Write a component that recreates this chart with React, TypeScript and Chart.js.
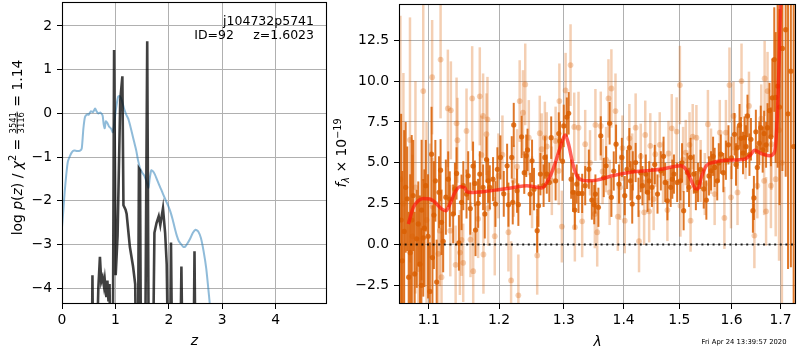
import React, { useEffect, useRef } from "react";
import { Chart, registerables } from "chart.js";
Chart.register(...registerables);

const FONT = "'DejaVu Sans', 'Liberation Sans', sans-serif";
const TICK_SIZE = 13.9;

// ---------------- left panel: redshift ----------------
const priorZ = [0.0, 0.02, 0.05, 0.08, 0.11, 0.15, 0.19, 0.23, 0.28, 0.34, 0.37, 0.40, 0.43, 0.47, 0.50, 0.54, 0.58, 0.62, 0.65, 0.68, 0.72, 0.76, 0.78, 0.80, 0.82, 0.85, 0.88, 0.92, 0.95, 0.98, 1.01, 1.05, 1.08, 1.12, 1.16, 1.20, 1.24, 1.28, 1.31, 1.35, 1.39, 1.42, 1.46, 1.50, 1.54, 1.58, 1.62, 1.64, 1.67, 1.70, 1.74, 1.78, 1.82, 1.86, 1.90, 1.95, 1.99, 2.03, 2.07, 2.11, 2.15, 2.19, 2.23, 2.27, 2.31, 2.35, 2.40, 2.45, 2.50, 2.55, 2.60, 2.65, 2.70, 2.75, 2.80, 2.90];
const priorLogP = [-2.6, -2.3, -1.8, -1.4, -1.1, -0.97, -0.88, -0.85, -0.86, -0.85, -0.80, -0.35, -0.08, -0.02, -0.03, 0.05, 0.03, 0.11, 0.04, 0.0, 0.02, -0.05, -0.25, -0.34, -0.18, -0.22, -0.30, -0.35, -0.43, -0.20, 0.10, 0.38, 0.40, 0.30, 0.12, -0.02, -0.12, -0.30, -0.45, -0.65, -0.85, -1.05, -1.25, -1.35, -1.42, -1.55, -1.70, -1.50, -1.30, -1.32, -1.40, -1.52, -1.64, -1.75, -1.87, -2.01, -2.12, -2.25, -2.42, -2.62, -2.80, -2.93, -2.99, -3.05, -3.04, -2.97, -2.86, -2.73, -2.66, -2.70, -2.85, -3.15, -3.55, -4.15, -4.8, -6.0];

const pzZ = [0.0, 0.50, 0.555, 0.57, 0.585, 0.64, 0.68, 0.71, 0.735, 0.76, 0.785, 0.80, 0.83, 0.85, 0.87, 0.89, 0.91, 0.95, 0.975, 1.005, 1.04, 1.09, 1.13, 1.15, 1.19, 1.21, 1.27, 1.33, 1.37, 1.39, 1.42, 1.44, 1.46, 1.48, 1.555, 1.595, 1.625, 1.70, 1.73, 1.77, 1.81, 1.84, 1.89, 1.93, 1.96, 1.99, 2.02, 2.04, 2.065, 2.21, 2.235, 2.26, 2.46, 2.48, 2.50, 3.0, 5.0];
const pzLogP = [-8, -8, -6, -3.7, -6, -6, -4.0, -3.28, -3.85, -3.75, -3.95, -3.8, -4.2, -3.82, -4.3, -3.9, -6, -6, 1.45, -3.7, -2.8, 0.3, 0.85, -2.1, -2.2, -2.3, -3.05, -3.5, -3.9, -6, -6, -1.26, -1.3, -6, -6, 1.65, -6, -6, -2.73, -2.5, -2.35, -2.55, -2.17, -2.73, -3.45, -6, -6, -2.95, -6, -6, -3.5, -6, -6, -3.15, -6, -8, -8];

const leftXTicks = [0, 1, 2, 3, 4];
const leftYTicks = [-4, -3, -2, -1, 0, 1, 2];

// ---------------- right panel: spectrum ----------------
// [lambda (micron), flux, error]
const darkPoints: [number, number, number][] = [
  [1.063, 1.5, 6.5], [1.0645, -1.0, 5.5], [1.067, 0.8, 6.2], [1.069, 3.5, 4.0], [1.071, 2.8, 3.2],
  [1.073, -2.0, 4.0], [1.075, -0.5, 4.8], [1.077, 1.5, 5.2], [1.079, 3.0, 3.4], [1.081, -1.8, 3.8],
  [1.0837, 0.35, 3.0], [1.0858, 1.26, 2.6], [1.088, -1.2, 4.2], [1.090, -2.5, 3.5], [1.0903, 2.11, 4.3],
  [1.0925, 0.41, 3.6], [1.094, 1.0, 3.6], [1.096, 3.6, 2.8], [1.099, 0.5, 3.8], [1.1015, -2.87, 3.0],
  [1.1038, 5.53, 2.9], [1.105, -0.8, 3.2], [1.107, 1.8, 3.3], [1.109, 3.9, 2.5], [1.1108, -2.30, 2.6],
  [1.114, 3.2, 2.2], [1.1162, 4.55, 1.9], [1.1175, 1.36, 2.0], [1.1198, 0.20, 1.9], [1.1235, 2.9, 2.3],
  [1.1268, 4.00, 1.7], [1.129, 2.78, 1.7], [1.1337, 1.87, 1.8], [1.1362, 3.4, 1.6], [1.1385, 4.35, 1.6],
  [1.1418, 0.10, 1.7], [1.1455, 2.58, 1.7], [1.148, 3.6, 1.5], [1.1526, 3.09, 1.5], [1.155, 4.21, 1.5],
  [1.158, 2.2, 1.6], [1.162, 4.8, 1.5], [1.1645, 3.74, 1.4], [1.1655, 0.89, 1.6], [1.1693, 2.52, 1.5],
  [1.1717, 4.31, 1.4], [1.1765, 3.50, 1.4], [1.179, 1.87, 1.5], [1.1815, 5.2, 1.4], [1.1839, 3.90, 1.35],
  [1.1863, 3.50, 1.35], [1.1911, 4.00, 1.35], [1.1946, 2.48, 1.4], [1.1975, 4.6, 1.35], [1.202, 5.33, 1.35],
  [1.207, 3.1, 1.4], [1.212, 4.82, 1.35], [1.214, 2.44, 1.35], [1.219, 5.33, 1.3], [1.2205, 2.58, 1.35],
  [1.222, 7.32, 1.35], [1.227, 3.29, 1.35], [1.229, 2.44, 1.3], [1.234, 6.59, 1.3], [1.238, 4.4, 1.3],
  [1.241, 5.43, 1.3], [1.243, 5.79, 1.3], [1.247, 3.09, 1.3], [1.250, 5.12, 1.3], [1.253, 3.39, 1.3],
  [1.258, 0.85, 1.35], [1.260, 2.38, 1.3], [1.263, 4.31, 1.3], [1.268, 3.6, 1.3], [1.270, 5.33, 1.3],
  [1.273, 4.31, 1.2], [1.277, 3.8, 1.2], [1.280, 6.54, 1.3], [1.287, 3.90, 1.2], [1.292, 6.79, 1.3],
  [1.294, 6.34, 1.2], [1.298, 5.1, 1.2], [1.300, 7.26, 1.3], [1.305, 7.80, 1.2], [1.308, 8.03, 1.3],
  [1.312, 4.00, 1.2], [1.315, 3.2, 1.2], [1.318, 2.11, 1.2], [1.321, 3.70, 1.2], [1.324, 3.13, 1.2],
  [1.330, 3.13, 1.2], [1.335, 3.60, 1.2], [1.341, 4.61, 1.2], [1.346, 2.72, 1.2], [1.350, 2.44, 1.2],
  [1.352, 3.09, 1.2], [1.357, 2.28, 1.2], [1.361, 6.65, 1.2], [1.366, 4.1, 1.2], [1.370, 4.82, 1.2],
  [1.376, 7.42, 1.3], [1.379, 2.89, 1.2], [1.383, 4.5, 1.2], [1.387, 6.14, 1.2], [1.392, 3.70, 1.2],
  [1.397, 5.33, 1.2], [1.402, 2.99, 1.2], [1.406, 4.6, 1.2], [1.410, 5.93, 1.2], [1.412, 3.90, 1.2],
  [1.415, 2.48, 1.2], [1.416, 4.51, 1.2], [1.421, 5.02, 1.2], [1.426, 2.89, 1.2], [1.430, 4.4, 1.2],
  [1.433, 3.60, 1.2], [1.439, 4.31, 1.2], [1.442, 3.2, 1.2], [1.445, 3.90, 1.2], [1.450, 3.50, 1.2],
  [1.455, 4.9, 1.2], [1.460, 3.09, 1.2], [1.466, 4.51, 1.2], [1.471, 5.4, 1.2], [1.474, 3.8, 1.2],
  [1.478, 2.68, 1.2], [1.484, 3.50, 1.2], [1.487, 4.00, 1.2], [1.490, 4.31, 1.2], [1.496, 3.80, 1.2],
  [1.502, 3.90, 1.2], [1.505, 5.0, 1.2], [1.508, 2.07, 1.2], [1.515, 4.41, 1.2], [1.518, 3.5, 1.2],
  [1.521, 5.33, 1.2], [1.527, 4.31, 1.2], [1.531, 3.3, 1.2], [1.535, 3.80, 1.2], [1.540, 4.6, 1.2],
  [1.546, 3.4, 1.2], [1.551, 2.72, 1.2], [1.556, 4.2, 1.2], [1.560, 4.51, 1.2], [1.564, 5.4, 1.2],
  [1.567, 4.72, 1.2], [1.572, 3.9, 1.2], [1.575, 5.0, 1.2], [1.579, 5.53, 1.2], [1.584, 4.4, 1.2],
  [1.589, 5.16, 1.2], [1.594, 6.1, 1.2], [1.600, 5.3, 1.3], [1.606, 6.75, 1.3], [1.609, 4.9, 1.3],
  [1.612, 5.93, 1.3], [1.616, 7.3, 1.3], [1.619, 6.50, 1.3], [1.623, 5.6, 1.3], [1.626, 6.54, 1.3],
  [1.629, 6.0, 1.3], [1.632, 7.87, 1.3], [1.636, 5.5, 1.3], [1.639, 6.44, 1.3], [1.643, 2.07, 1.35],
  [1.645, 2.85, 1.35], [1.649, 6.9, 1.35], [1.652, 4.72, 1.35], [1.656, 6.2, 1.35], [1.659, 7.15, 1.35],
  [1.663, 5.8, 1.4], [1.666, 6.79, 1.4], [1.670, 6.1, 1.4], [1.673, 7.15, 1.5], [1.677, 8.2, 1.7],
  [1.680, 6.59, 1.8], [1.683, 8.98, 2.4], [1.687, 11.32, 3.2], [1.690, 9.0, 4.0], [1.694, 9.70, 5.0],
  [1.698, 8.41, 6.0], [1.704, 12.0, 7.5], [1.711, 13.15, 9.0], [1.716, 8.0, 9.5], [1.722, 10.61, 12.0],
  [1.728, 6.0, 12.0]
];

const lightPoints: [number, number, number][] = [
  [1.062, 4.0, 10.0], [1.066, 2.5, 8.0], [1.0747, 6.40, 7.5], [1.078, 0.5, 5.0], [1.082, 3.5, 6.5],
  [1.086, -1.5, 4.5], [1.0925, 9.39, 5.5], [1.097, 1.5, 6.0], [1.1015, 2.68, 3.5], [1.1046, 10.24, 3.5],
  [1.1053, 2.32, 3.0], [1.113, -0.57, 3.2], [1.1152, 0.85, 3.4], [1.1162, 11.32, 3.6], [1.1175, -2.0, 2.8],
  [1.1263, 8.33, 3.6], [1.1297, 0.85, 2.8], [1.1305, 8.21, 3.0], [1.1372, -1.24, 2.4], [1.1385, 7.42, 2.8],
  [1.1398, 6.38, 2.6], [1.1432, -0.49, 2.6], [1.1455, 0.28, 2.2], [1.1479, -1.12, 2.4], [1.1526, 6.95, 2.6],
  [1.1583, 0.30, 2.3], [1.1607, 8.94, 3.2], [1.1622, -1.63, 2.4], [1.1693, 1.57, 2.4], [1.1717, 9.07, 3.0],
  [1.1741, 5.49, 2.4], [1.1765, 7.87, 2.6], [1.177, -0.61, 2.4], [1.1814, 6.75, 2.5], [1.1829, 7.66, 2.6],
  [1.1839, 2.22, 2.3], [1.1936, 0.51, 2.4], [1.199, 4.2, 2.6], [1.205, 5.5, 2.4], [1.214, 0.75, 2.4],
  [1.218, -2.20, 2.4], [1.222, 3.90, 2.2], [1.227, 4.76, 2.3], [1.229, -3.11, 2.5], [1.231, 8.78, 2.5],
  [1.236, 8.07, 2.6], [1.2395, 9.80, 2.5], [1.245, 6.54, 2.3], [1.250, 3.2, 2.2], [1.258, -0.67, 2.4],
  [1.262, 6.81, 2.3], [1.265, 5.83, 2.2], [1.270, 6.54, 2.2], [1.273, 6.00, 2.1], [1.281, 3.90, 2.1],
  [1.287, 6.34, 2.1], [1.292, 4.51, 2.1], [1.293, 8.78, 2.3], [1.297, 1.10, 2.2], [1.303, 9.43, 2.3],
  [1.311, 10.98, 2.5], [1.317, 7.20, 2.1], [1.318, 1.06, 2.1], [1.324, 7.15, 2.2], [1.330, 1.42, 2.2],
  [1.335, 6.14, 2.1], [1.343, 5.0, 2.0], [1.351, 1.87, 2.1], [1.352, 7.32, 2.2], [1.355, 0.75, 2.1],
  [1.361, 7.26, 2.1], [1.364, 4.47, 2.0], [1.370, 5.2, 2.0], [1.374, 8.94, 2.4], [1.376, 3.19, 2.0],
  [1.379, 9.55, 2.4], [1.386, 8.17, 2.3], [1.390, 1.71, 2.1], [1.394, 3.50, 2.0], [1.398, 5.9, 2.0],
  [1.402, 1.46, 2.0], [1.410, 6.50, 2.1], [1.415, 4.8, 2.0], [1.421, 7.15, 2.1], [1.427, 0.20, 1.9],
  [1.430, 5.4, 2.0], [1.436, 1.97, 2.0], [1.438, 6.71, 2.1], [1.445, 2.03, 1.9], [1.447, 6.04, 2.0],
  [1.453, 2.78, 1.9], [1.456, 5.53, 2.0], [1.464, 6.10, 2.0], [1.470, 4.4, 1.9], [1.478, 2.11, 1.9],
  [1.480, 5.57, 2.0], [1.486, 7.11, 2.1], [1.495, 6.91, 2.1], [1.501, 9.76, 2.4], [1.502, 2.38, 1.9],
  [1.507, 5.2, 2.0], [1.512, 5.63, 2.0], [1.519, 6.10, 2.0], [1.521, 1.46, 1.9], [1.525, 6.60, 2.0],
  [1.532, 6.54, 2.0], [1.540, 4.5, 1.9], [1.548, 3.70, 1.9], [1.554, 7.36, 2.1], [1.560, 5.1, 2.0],
  [1.567, 3.09, 1.9], [1.577, 6.85, 2.0], [1.586, 1.63, 1.9], [1.589, 6.85, 2.0], [1.596, 9.76, 2.3],
  [1.599, 2.89, 1.9], [1.604, 7.87, 2.1], [1.612, 3.19, 2.0], [1.620, 10.00, 2.3], [1.628, 6.0, 2.0],
  [1.635, 8.48, 2.1], [1.646, 0.55, 2.0], [1.652, 3.60, 2.0], [1.660, 7.7, 2.1], [1.666, 3.90, 2.1],
  [1.667, 10.16, 2.3], [1.670, 2.03, 2.1], [1.673, 9.39, 2.4], [1.680, 3.60, 2.6], [1.681, 6.14, 2.8],
  [1.690, 4.00, 3.5], [1.697, 7.0, 8.0], [1.703, 5.0, 10.0]
];

const modelLam = [1.0725, 1.0792, 1.0858, 1.0925, 1.1016, 1.1085, 1.1175, 1.1236, 1.1292, 1.1362, 1.1432, 1.1503, 1.1526, 1.1597, 1.179, 1.1985, 1.222, 1.2422, 1.2526, 1.2654, 1.2733, 1.2839, 1.2943, 1.3024, 1.3078, 1.3148, 1.3213, 1.3295, 1.3406, 1.3543, 1.3808, 1.4094, 1.4388, 1.4688, 1.5023, 1.5117, 1.521, 1.5304, 1.5348, 1.5413, 1.5509, 1.5635, 1.5927, 1.6258, 1.6394, 1.6461, 1.6598, 1.6769, 1.6873, 1.6929, 1.6978, 1.7012];
const modelFlux = [1.25, 2.27, 2.68, 2.82, 2.79, 2.58, 2.18, 2.07, 2.48, 3.19, 3.54, 3.46, 3.25, 3.19, 3.25, 3.35, 3.49, 3.60, 3.54, 3.46, 3.80, 4.71, 5.93, 6.70, 6.14, 4.92, 4.21, 3.94, 3.90, 3.94, 4.21, 4.41, 4.51, 4.62, 4.82, 4.62, 4.00, 3.42, 3.40, 4.10, 4.82, 5.02, 5.16, 5.22, 5.53, 5.77, 5.57, 5.43, 5.63, 7.56, 11.83, 16.0];

const rightXTicks = [1.1, 1.2, 1.3, 1.4, 1.5, 1.6, 1.7];
const rightYTicks = [-2.5, 0, 2.5, 5, 7.5, 10, 12.5];

const objName = "j104732p5741";
const objId = "ID=92";
const objZ = "z=1.6023";
const stamp = "Fri Apr 24 13:39:57 2020";

// ---------------- helpers ----------------
const minus = (s: string) => s.replace("-", "\u2212");

type Seg =
  | { text: string; size: number; italic?: boolean; dy?: number }
  | { num: string; den: string; size: number };

function drawRich(ctx: CanvasRenderingContext2D, segs: Seg[], x: number, y: number) {
  const widths = segs.map((s: any) => {
    if (s.num !== undefined) {
      ctx.font = `${s.size}px ${FONT}`;
      return Math.max(ctx.measureText(s.num).width, ctx.measureText(s.den).width) + 2;
    }
    ctx.font = `${s.italic ? "italic " : ""}${s.size}px ${FONT}`;
    return ctx.measureText(s.text).width;
  });
  const total = widths.reduce((a, b) => a + b, 0);
  let cx = x - total / 2;
  segs.forEach((s: any, i) => {
    if (s.num !== undefined) {
      ctx.font = `${s.size}px ${FONT}`;
      ctx.textAlign = "center";
      const mid = cx + widths[i] / 2;
      ctx.fillText(s.num, mid, y - 5.6);
      ctx.fillText(s.den, mid, y + 2.4);
      ctx.fillRect(cx + 0.5, y - 4.8, widths[i] - 1, 0.8);
      ctx.textAlign = "left";
    } else {
      ctx.font = `${s.italic ? "italic " : ""}${s.size}px ${FONT}`;
      ctx.textAlign = "left";
      ctx.fillText(s.text, cx, y + (s.dy || 0));
    }
    cx += widths[i];
  });
}

const boxPlugin = {
  id: "box",
  afterDraw(chart: any) {
    const { ctx, chartArea: a } = chart;
    ctx.save();
    ctx.strokeStyle = "#000";
    ctx.lineWidth = 1.1;
    ctx.strokeRect(Math.round(a.left) + 0.5, Math.round(a.top) + 0.5, Math.round(a.right - a.left) - 1, Math.round(a.bottom - a.top) - 1);
    ctx.restore();
  },
};

const errorBarPlugin = {
  id: "errbars",
  beforeDatasetDraw(chart: any, args: any) {
    const ds: any = chart.data.datasets[args.index];
    if (!ds.errs) return;
    const { ctx, chartArea: a, scales } = chart;
    ctx.save();
    ctx.beginPath();
    ctx.rect(a.left, a.top, a.right - a.left, a.bottom - a.top);
    ctx.clip();
    ctx.strokeStyle = ds.errColor;
    ctx.lineWidth = ds.errWidth;
    ctx.lineCap = "butt";
    ds.data.forEach((p: any, i: number) => {
      const x = scales.x.getPixelForValue(p.x);
      const y1 = scales.y.getPixelForValue(p.y - ds.errs[i]);
      const y2 = scales.y.getPixelForValue(p.y + ds.errs[i]);
      ctx.beginPath();
      ctx.moveTo(x, y1);
      ctx.lineTo(x, y2);
      ctx.stroke();
    });
    ctx.restore();
  },
};

const leftTextPlugin = {
  id: "leftText",
  afterDraw(chart: any) {
    const { ctx, chartArea: a } = chart;
    ctx.save();
    ctx.fillStyle = "#000";
    ctx.textBaseline = "alphabetic";
    ctx.font = `12.5px ${FONT}`;
    ctx.textAlign = "right";
    ctx.fillText(objName, 314, 24.5);
    ctx.fillText(objZ, 314, 39);
    ctx.textAlign = "left";
    ctx.fillText(objId, 194.3, 39);
    ctx.font = `italic ${TICK_SIZE}px ${FONT}`;
    ctx.textAlign = "center";
    ctx.fillText("z", (a.left + a.right) / 2, 345);
    ctx.translate(21.5, 147.5);
    ctx.rotate(-Math.PI / 2);
    drawRich(ctx, [
      { text: "log ", size: TICK_SIZE },
      { text: "p", size: TICK_SIZE, italic: true },
      { text: "(", size: TICK_SIZE },
      { text: "z", size: TICK_SIZE, italic: true },
      { text: ") / ", size: TICK_SIZE },
      { text: "\u03c7", size: TICK_SIZE, italic: true },
      { text: "2", size: 9.7, dy: -5.2 },
      { text: " = ", size: TICK_SIZE },
      { num: "3541", den: "3116", size: 8.4 },
      { text: " = 1.14", size: TICK_SIZE },
    ], 0, 0);
    ctx.restore();
  },
};

const rightTextPlugin = {
  id: "rightText",
  afterDraw(chart: any) {
    const { ctx, chartArea: a } = chart;
    ctx.save();
    ctx.fillStyle = "#000";
    ctx.textBaseline = "alphabetic";
    ctx.font = `italic ${TICK_SIZE}px ${FONT}`;
    ctx.textAlign = "center";
    ctx.fillText("\u03bb", (a.left + a.right) / 2, 346);
    ctx.font = `6.8px ${FONT}`;
    ctx.fillText(stamp, 414, 343.5);
    ctx.translate(16, 153);
    ctx.rotate(-Math.PI / 2);
    drawRich(ctx, [
      { text: "f", size: TICK_SIZE, italic: true },
      { text: "\u03bb", size: 9.7, italic: true, dy: 3 },
      { text: " \u00d7 10", size: TICK_SIZE },
      { text: "\u221219", size: 9.7, dy: -5.5 },
    ], 0, 0);
    ctx.restore();
  },
};

const tickFont = { family: FONT, size: TICK_SIZE };
const gridCfg = { color: "#b0b0b0", lineWidth: 1, tickColor: "#000", tickLength: 5, drawOnChartArea: true };

const fitX = (s: any) => { s.height = 46; s.paddingLeft = 0; s.paddingRight = 0; };
const fitY = (w: number) => (s: any) => { s.width = w; s.paddingTop = 0; s.paddingBottom = 0; };

function LeftPanel() {
  const ref = useRef<HTMLCanvasElement>(null);
  useEffect(() => {
    const chart = new Chart(ref.current as HTMLCanvasElement, {
      type: "line",
      data: {
        datasets: [
          {
            data: pzZ.map((z, i) => ({ x: z, y: pzLogP[i] })),
            borderColor: "rgba(0,0,0,0.75)",
            borderWidth: 2.6,
            pointRadius: 0,
            tension: 0,
            order: 0,
          } as any,
          {
            data: priorZ.map((z, i) => ({ x: z, y: priorLogP[i] })),
            borderColor: "rgba(31,119,180,0.5)",
            borderWidth: 2,
            pointRadius: 0,
            tension: 0.2,
            order: 1,
          } as any,
        ],
      },
      options: {
        responsive: false,
        animation: false,
        events: [],
        layout: { padding: { left: 0, right: 3, top: 2, bottom: 0 } },
        plugins: { legend: { display: false }, tooltip: { enabled: false } },
        scales: {
          x: {
            type: "linear",
            min: 0,
            max: 4.96,
            afterBuildTicks: (s: any) => { s.ticks = leftXTicks.map((v) => ({ value: v })); },
            afterFit: fitX,
            ticks: { font: tickFont, color: "#000", padding: 3, maxRotation: 0, autoSkip: false, callback: (v: any) => minus(String(v)) },
            grid: gridCfg,
            border: { display: false },
          },
          y: {
            type: "linear",
            min: -4.358,
            max: 2.548,
            afterBuildTicks: (s: any) => { s.ticks = leftYTicks.map((v) => ({ value: v })); },
            afterFit: fitY(62),
            ticks: { font: tickFont, color: "#000", padding: 5, autoSkip: false, callback: (v: any) => minus(String(v)) },
            grid: gridCfg,
            border: { display: false },
          },
        },
      } as any,
      plugins: [boxPlugin, leftTextPlugin],
    });
    return () => chart.destroy();
  }, []);
  return <canvas ref={ref} width={330} height={350} style={{ position: "absolute", left: 0, top: 0, width: 330, height: 350 }} />;
}

function RightPanel() {
  const ref = useRef<HTMLCanvasElement>(null);
  useEffect(() => {
    const chart = new Chart(ref.current as HTMLCanvasElement, {
      type: "line",
      data: {
        datasets: [
          {
            data: modelLam.map((l, i) => ({ x: l, y: modelFlux[i] })),
            borderColor: "rgba(255,20,10,0.68)",
            borderWidth: 3.5,
            pointRadius: 0,
            cubicInterpolationMode: "monotone",
            order: 0,
          } as any,
          {
            data: [{ x: 1.0602, y: 0 }, { x: 1.733, y: 0 }],
            borderColor: "rgba(0,0,0,0.85)",
            borderWidth: 2,
            borderDash: [2, 3.6],
            pointRadius: 0,
            order: 1,
          } as any,
          {
            data: darkPoints.map((p) => ({ x: p[0], y: p[1] })),
            errs: darkPoints.map((p) => p[2]),
            errColor: "rgba(217,95,2,0.85)",
            errWidth: 2,
            showLine: false,
            pointRadius: 2.6,
            pointBorderWidth: 0,
            pointBackgroundColor: "rgba(217,95,2,0.85)",
            order: 2,
          } as any,
          {
            data: lightPoints.map((p) => ({ x: p[0], y: p[1] })),
            errs: lightPoints.map((p) => p[2]),
            errColor: "rgba(217,95,2,0.3)",
            errWidth: 2.5,
            showLine: false,
            pointRadius: 2.9,
            pointBorderWidth: 0,
            pointBackgroundColor: "rgba(217,95,2,0.3)",
            order: 3,
          } as any,
        ],
      },
      options: {
        responsive: false,
        animation: false,
        events: [],
        layout: { padding: { left: 0, right: 1, top: 2, bottom: 0 } },
        plugins: { legend: { display: false }, tooltip: { enabled: false } },
        scales: {
          x: {
            type: "logarithmic",
            min: 1.0602,
            max: 1.733,
            afterBuildTicks: (s: any) => { s.ticks = rightXTicks.map((v) => ({ value: v })); },
            afterFit: fitX,
            ticks: { font: tickFont, color: "#000", padding: 3, maxRotation: 0, autoSkip: false, callback: (v: any) => Number(v).toFixed(1) },
            grid: gridCfg,
            border: { display: false },
          },
          y: {
            type: "linear",
            min: -3.64,
            max: 14.72,
            afterBuildTicks: (s: any) => { s.ticks = rightYTicks.map((v) => ({ value: v })); },
            afterFit: fitY(69),
            ticks: { font: tickFont, color: "#000", padding: 5, autoSkip: false, callback: (v: any) => minus(Number(v).toFixed(1)) },
            grid: gridCfg,
            border: { display: false },
          },
        },
      } as any,
      plugins: [errorBarPlugin, boxPlugin, rightTextPlugin],
    });
    return () => chart.destroy();
  }, []);
  return <canvas ref={ref} width={470} height={350} style={{ position: "absolute", left: 330, top: 0, width: 470, height: 350 }} />;
}

export default function App() {
  return (
    <div style={{ position: "fixed", left: 0, top: 0, width: 800, height: 350, background: "#fff", overflow: "hidden" }}>
      <LeftPanel />
      <RightPanel />
    </div>
  );
}
